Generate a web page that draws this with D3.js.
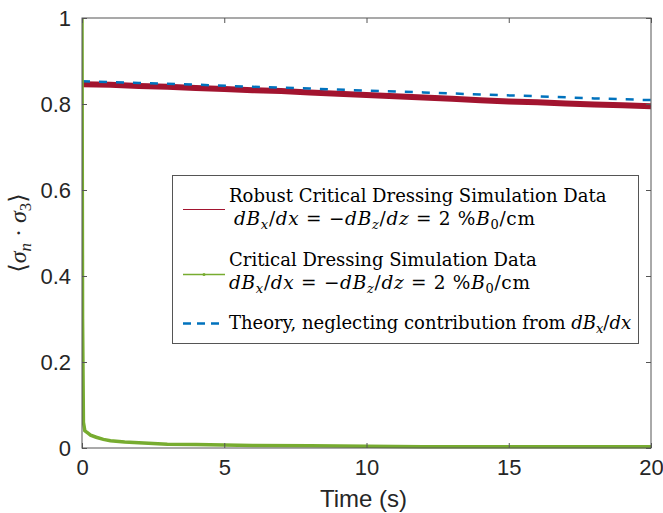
<!DOCTYPE html>
<html>
<head>
<meta charset="utf-8">
<script src="https://cdn.jsdelivr.net/npm/d3@7"></script>
<style>
  body { margin: 0; background: #fff; }
  svg text { fill: #262626; }
  .tick-label { font-family: 'Liberation Sans', Arial, sans-serif; font-size: 22px; }
  .legend-text { font-family: 'DejaVu Serif', 'Liberation Serif', serif; font-size: 18px; fill: #000; }
  .legend-math { letter-spacing: 0.7px; font-size: 18.5px; }
</style>
</head>
<body>
<svg id="chart" width="663" height="513"></svg>
<script>
/* -------------------------------------------------------------------------- */
// data
const xTicks = [0, 5, 10, 15, 20];
const yTicks = [0, 0.2, 0.4, 0.6, 0.8, 1];
const yTickLabels = ['0', '0.2', '0.4', '0.6', '0.8', '1'];

// robust critical dressing (red)
const robustT = [0, 1, 2, 3, 4, 5, 6, 7, 8, 9, 10, 11, 12, 13, 14, 15, 16, 17, 18, 19, 20];
const robustV = [0.846, 0.845, 0.842, 0.840, 0.837, 0.835, 0.832, 0.830, 0.827, 0.824, 0.821,
                 0.818, 0.815, 0.812, 0.809, 0.806, 0.804, 0.801, 0.799, 0.797, 0.795];

// critical dressing (green)
const criticalT = [0, 0.02, 0.05, 0.1, 0.2, 0.3, 0.5, 0.75, 1, 1.5, 2, 3, 4, 5, 6, 8, 10, 12, 14, 16, 18, 20];
const criticalV = [1.0, 0.30, 0.06, 0.04, 0.035, 0.030, 0.025, 0.020, 0.017, 0.014, 0.012, 0.009,
                   0.008, 0.007, 0.006, 0.005, 0.004, 0.003, 0.003, 0.003, 0.003, 0.003];

// theory (blue dashed)
const theoryT = [0, 2, 4, 6, 8, 10, 12, 14, 16, 18, 20];
const theoryV = [0.853, 0.849, 0.845, 0.840, 0.836, 0.831, 0.827, 0.822, 0.818, 0.813, 0.809];

const colRobust = '#A2142F';
const colCritical = '#77AC30';
const colTheory = '#0072BD';

/* -------------------------------------------------------------------------- */
const svg = d3.select('#chart');
const plot = {left: 82, right: 651, top: 18, bottom: 448};

const x = d3.scaleLinear().domain([0, 20]).range([plot.left, plot.right]);
const y = d3.scaleLinear().domain([0, 1]).range([plot.bottom, plot.top]);

const zip = (ts, vs) => ts.map((t, i) => [t, vs[i]]);
const line = d3.line().x(d => x(d[0])).y(d => y(d[1]));

svg.append('clipPath').attr('id', 'clip')
  .append('rect')
  .attr('x', plot.left).attr('y', plot.top - 2)
  .attr('width', plot.right - plot.left).attr('height', plot.bottom - plot.top + 4);

/* -------------------------------------------------------------------------- */
// series
let g = svg.append('g').attr('clip-path', 'url(#clip)');

g.append('path')
  .attr('d', line(zip(robustT, robustV)))
  .attr('fill', 'none')
  .attr('stroke', colRobust)
  .attr('stroke-width', 6);

g.append('path')
  .attr('d', line(zip(theoryT, theoryV)))
  .attr('fill', 'none')
  .attr('stroke', colTheory)
  .attr('stroke-width', 2.5)
  .attr('stroke-dasharray', '8,9');

g.append('path')
  .attr('d', line(zip(criticalT, criticalV)))
  .attr('fill', 'none')
  .attr('stroke', colCritical)
  .attr('stroke-width', 3.5);

/* -------------------------------------------------------------------------- */
// axes box and ticks (matlab style, ticks inside on all four sides)
const axisCol = '#555';
const axes = svg.append('g');

axes.append('rect')
  .attr('x', plot.left).attr('y', plot.top)
  .attr('width', plot.right - plot.left).attr('height', plot.bottom - plot.top)
  .attr('fill', 'none').attr('stroke', axisCol).attr('stroke-width', 1);

const bottomAxis = d3.axisBottom(x).tickValues(xTicks).tickSizeInner(-5).tickSizeOuter(0).tickPadding(11);
const leftAxis = d3.axisLeft(y).tickValues(yTicks).tickFormat((d, i) => yTickLabels[i])
  .tickSizeInner(-5).tickSizeOuter(0).tickPadding(11);

let ax = axes.append('g').attr('transform', `translate(0,${plot.bottom})`).call(bottomAxis);
ax.select('.domain').remove();
ax.selectAll('.tick line').attr('stroke', axisCol);
ax.selectAll('.tick text').attr('class', 'tick-label').attr('fill', '#262626');

ax = axes.append('g').attr('transform', `translate(${plot.left},0)`).call(leftAxis);
ax.select('.domain').remove();
ax.selectAll('.tick line').attr('stroke', axisCol);
ax.selectAll('.tick text').attr('class', 'tick-label').attr('fill', '#262626');

// mirrored ticks on top and right
ax = axes.append('g').attr('transform', `translate(0,${plot.top})`)
  .call(d3.axisTop(x).tickValues(xTicks).tickSizeInner(-5).tickSizeOuter(0).tickFormat(''));
ax.select('.domain').remove();
ax.selectAll('.tick line').attr('stroke', axisCol);

ax = axes.append('g').attr('transform', `translate(${plot.right},0)`)
  .call(d3.axisRight(y).tickValues(yTicks).tickSizeInner(-5).tickSizeOuter(0).tickFormat(''));
ax.select('.domain').remove();
ax.selectAll('.tick line').attr('stroke', axisCol);

/* -------------------------------------------------------------------------- */
// axis labels
svg.append('text')
  .attr('class', 'tick-label')
  .attr('x', (plot.left + plot.right) / 2 - 3)
  .attr('y', 507)
  .attr('text-anchor', 'middle')
  .style('font-size', '24px')
  .text('Time (s)');

let yl = svg.append('text')
  .attr('transform', 'translate(26,233) rotate(-90)')
  .attr('text-anchor', 'middle')
  .style('font-family', "'Liberation Serif', 'DejaVu Serif', serif")
  .style('font-size', '24px')
  .attr('fill', '#262626');
yl.append('tspan').text('\u27E8');
yl.append('tspan').style('font-style', 'italic').text('\u03C3');
yl.append('tspan').attr('dy', 5).style('font-style', 'italic').style('font-size', '17px').text('n');
yl.append('tspan').attr('dy', -5).text(' \u00B7 ');
yl.append('tspan').style('font-style', 'italic').text('\u03C3');
yl.append('tspan').attr('dy', 5).style('font-size', '17px').text('3');
yl.append('tspan').attr('dy', -5).text('\u27E9');

/* -------------------------------------------------------------------------- */
// legend
const lg = svg.append('g');
lg.append('rect')
  .attr('x', 172.5).attr('y', 175.5).attr('width', 466).attr('height', 168)
  .attr('fill', '#fff').attr('stroke', axisCol).attr('stroke-width', 1);

const ls = {x0: 183, x1: 225, tx: 229};

function mathLine(parent, xx, yy, parts) {
  let t = parent.append('text').attr('class', 'legend-text legend-math').attr('x', xx).attr('y', yy);
  parts.forEach(p => {
    let s = t.append('tspan').text(p[0]);
    if (p[1] == 'i') s.style('font-style', 'italic');
    if (p[1] == 'sub') s.style('font-style', 'italic').style('font-size', '13px').attr('dy', 4);
    if (p[1] == 'subn') s.style('font-size', '13px').attr('dy', 4);
    if (p[2]) s.attr('dy', p[2]);
  });
  return t;
}

const gradParts = [
  ['dB', 'i'], ['x', 'sub'], ['/', '', -4], ['dx', 'i'], [' = \u2212', ''], ['dB', 'i'], ['z', 'sub'],
  ['/', '', -4], ['dz', 'i'], [' = 2 %', ''], ['B', 'i'], ['0', 'subn'], ['/cm', '', -4]
];

// robust
lg.append('line').attr('x1', ls.x0).attr('x2', ls.x1).attr('y1', 209.5).attr('y2', 209.5)
  .attr('stroke', colRobust).attr('stroke-width', 1);
lg.append('text').attr('class', 'legend-text').attr('x', ls.tx).attr('y', 202)
  .text('Robust Critical Dressing Simulation Data');
mathLine(lg, ls.tx + 5, 225, gradParts);

// critical
lg.append('line').attr('x1', ls.x0).attr('x2', ls.x1).attr('y1', 274.5).attr('y2', 274.5)
  .attr('stroke', colCritical).attr('stroke-width', 1.5);
lg.append('circle').attr('cx', (ls.x0 + ls.x1) / 2).attr('cy', 274.5).attr('r', 1.5).attr('fill', colCritical);
lg.append('text').attr('class', 'legend-text').attr('x', ls.tx).attr('y', 266)
  .text('Critical Dressing Simulation Data');
mathLine(lg, ls.tx, 289, gradParts);

// theory
lg.append('line').attr('x1', ls.x0).attr('x2', ls.x1).attr('y1', 323.5).attr('y2', 323.5)
  .attr('stroke', colTheory).attr('stroke-width', 2.5).attr('stroke-dasharray', '8,6');
let th = lg.append('text').attr('class', 'legend-text').attr('x', ls.tx).attr('y', 329);
th.append('tspan').text('Theory, neglecting contribution from ');
th.append('tspan').style('font-style', 'italic').text('dB');
th.append('tspan').style('font-style', 'italic').style('font-size', '13px').attr('dy', 4).text('x');
th.append('tspan').attr('dy', -4).text('/');
th.append('tspan').style('font-style', 'italic').text('dx');
</script>
</body>
</html>
